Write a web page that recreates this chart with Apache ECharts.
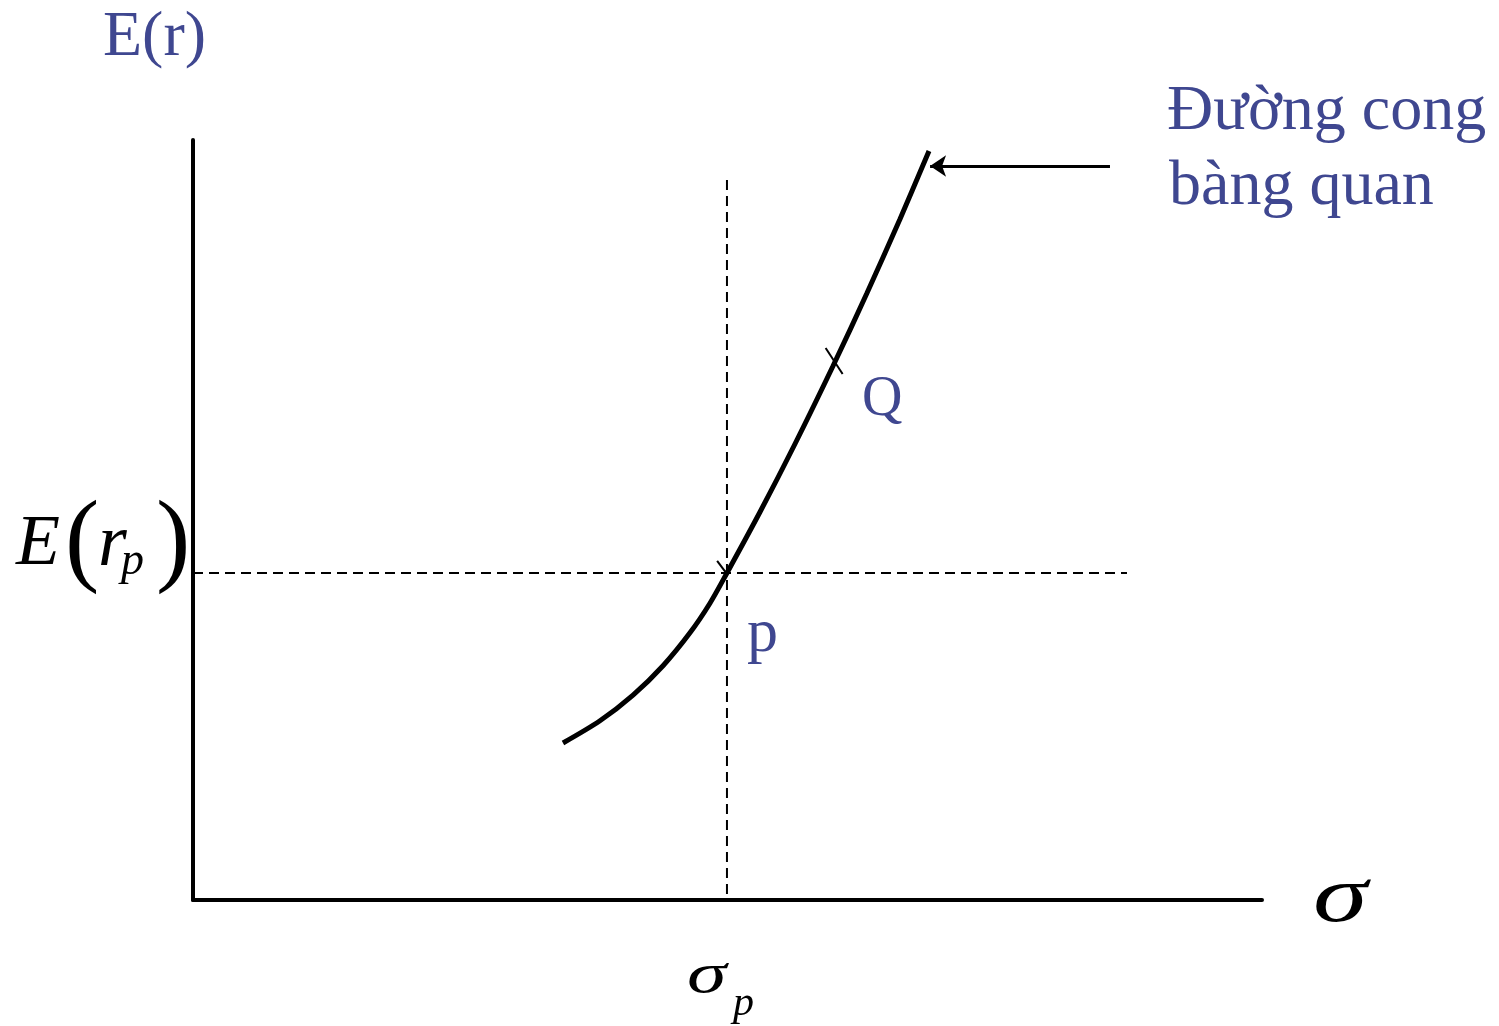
<!DOCTYPE html>
<html>
<head>
<meta charset="utf-8">
<script src="https://cdn.jsdelivr.net/npm/echarts@6/dist/echarts.min.js"></script>
<style>
html,body{margin:0;padding:0;background:#fff;}
#c{width:1499px;height:1026px;}
</style>
</head>
<body>
<div id="c"></div>
<script>
// Indifference curve (sigma, E(r)) in abstract units
const curveX = [3.461, 3.807, 4.116, 4.397, 4.649, 4.836, 4.995, 5.304, 5.631, 5.987, 6.305, 6.614, 6.885];
const curveY = [2.066, 2.358, 2.696, 3.083, 3.516, 3.905, 4.303, 5.105, 6.000, 7.026, 7.987, 8.961, 9.855];
const pointP = [4.995, 4.303];
const vGuideTop = 9.474;
const hGuideRight = 8.737;
const tickP = [[4.903, 4.461], [4.996, 4.289]];
const tickQ = [[5.918, 7.263], [6.077, 6.921]];
const arrowLine = [[8.578, 9.658], [6.895, 9.658]];
const labels = {
  yName: 'E(r)', xName: 'σ', curveName1: 'Đường cong', curveName2: 'bàng quan',
  p: 'p', q: 'Q'
};

const curve = curveX.map((x, i) => [x, curveY[i]]);
const TXT = '#3F4790';
const SERIF = '"Liberation Serif","Times New Roman",serif';

const chart = echarts.init(document.getElementById('c'), null, {renderer: 'canvas'});
const axisCommon = {
  type: 'value', min: 0, max: 10,
  axisLine: {show: true, lineStyle: {color: '#000', width: 4}},
  axisTick: {show: false}, axisLabel: {show: false}, splitLine: {show: false}
};
function txt(text, x, y, size, fill, opts) {
  opts = opts || {};
  return {
    type: 'text', x: x, y: y, scaleX: opts.scaleX || 1,
    style: {text: text, x: 0, y: 0, font: (opts.italic ? 'italic ' : '') + size + 'px ' + SERIF, fill: fill}
  };
}
chart.setOption({
  animation: false,
  backgroundColor: '#fff',
  grid: {left: 193, top: 140, width: 1069, height: 760},
  xAxis: Object.assign({}, axisCommon),
  yAxis: Object.assign({}, axisCommon),
  series: [
    {
      type: 'line', data: [[pointP[0], vGuideTop], [pointP[0], 0]], symbol: 'none',
      lineStyle: {color: '#000', width: 2, type: [10, 6]}, z: 1
    },
    {
      type: 'line', data: [[0, pointP[1]], [hGuideRight, pointP[1]]], symbol: 'none',
      lineStyle: {color: '#000', width: 2, type: [10, 6]}, z: 1
    },
    {
      type: 'line', data: curve, symbol: 'none', smooth: 0.3,
      lineStyle: {color: '#000', width: 5}, z: 3
    },
    {
      type: 'line', data: tickP, symbol: 'none',
      lineStyle: {color: '#000', width: 2}, z: 3
    },
    {
      type: 'line', data: tickQ, symbol: 'none',
      lineStyle: {color: '#000', width: 2}, z: 3
    },
    {
      type: 'lines', coordinateSystem: 'cartesian2d',
      data: [{coords: arrowLine}],
      symbol: ['none', 'arrow'], symbolSize: 16,
      lineStyle: {color: '#000', width: 3, opacity: 1}, z: 3
    }
  ],
  graphic: [
    txt(labels.yName, 103, 6, 64, TXT),
    txt(labels.curveName1, 1167, 80, 64, TXT),
    txt(labels.curveName2, 1169, 155, 64, TXT),
    txt(labels.q, 862, 372, 56, TXT),
    txt(labels.p, 747, 604, 62, TXT),
    txt(labels.xName, 1313, 860, 80, '#000', {italic: true, scaleX: 1.38}),
    txt('σ', 687, 948, 58, '#000', {italic: true, scaleX: 1.38}),
    txt('p', 733, 983, 42, '#000', {italic: true}),
    txt('E', 16, 509, 72, '#000', {italic: true}),
    txt('(', 65, 493, 103, '#000'),
    txt('r', 98, 509, 74, '#000', {italic: true}),
    txt('p', 121, 539, 46, '#000', {italic: true}),
    txt(')', 156, 493, 103, '#000')
  ]
});
</script>
</body>
</html>
